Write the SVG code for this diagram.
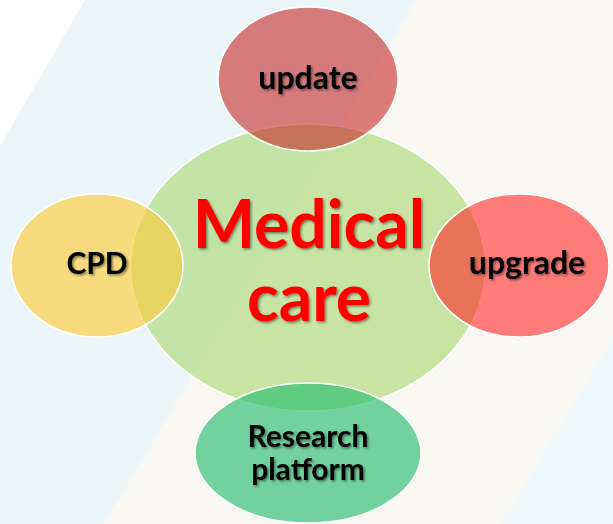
<svg xmlns="http://www.w3.org/2000/svg" width="613" height="524" viewBox="0 0 613 524">
<defs>
<style>
.node{stroke:#ffffff;stroke-width:1.5}
.lbl{font-family:Lato,"Open Sans","Liberation Sans",sans-serif;font-weight:700;font-size:30px;fill:#000000;text-anchor:middle;filter:url(#sh)}
.wide{font-size:32px}
.big{font-family:Lato,"Open Sans","Liberation Sans",sans-serif;font-weight:700;font-size:66px;fill:#ff0000;text-anchor:middle;filter:url(#sh)}
</style>
<filter id="sh" x="-10%" y="-20%" width="130%" height="150%">
<feDropShadow dx="1.5" dy="1.5" stdDeviation="1" flood-color="#000000" flood-opacity="0.45"/>
</filter>
</defs>
<g id="background">
<rect x="0" y="0" width="613" height="524" fill="#f9f7f2"/>
<polygon points="0,0 416,0 104,524 0,524" fill="#ecf6f9"/>
<polygon points="0,0 85,0 0,146" fill="#ffffff"/>
<polygon points="613,338 613,524 501,524" fill="#eef8fb"/>
</g>
<g id="connectors"/>
<g id="node-medical-care">
<ellipse class="node" cx="308" cy="267.5" rx="177.5" ry="143.5" fill="#abda77" fill-opacity="0.64"/>
<text class="big" x="309" y="248">Medical</text>
<text class="big" x="309" y="321">care</text>
</g>
<g id="node-update">
<ellipse class="node" cx="308" cy="79" rx="90" ry="72" fill="#c82927" fill-opacity="0.6"/>
<text class="lbl wide" x="308" y="89">update</text>
</g>
<g id="node-cpd">
<ellipse class="node" cx="97" cy="265.5" rx="86" ry="71.5" fill="#facd3c" fill-opacity="0.65"/>
<text class="lbl" x="97" y="274">CPD</text>
</g>
<g id="node-upgrade">
<ellipse class="node" cx="519" cy="265.5" rx="90" ry="71.5" fill="#ff2828" fill-opacity="0.6"/>
<text class="lbl wide" x="527" y="274">upgrade</text>
</g>
<g id="node-research-platform">
<ellipse class="node" cx="308" cy="453" rx="113" ry="70" fill="#28be6e" fill-opacity="0.65"/>
<text class="lbl" x="308" y="447">Research</text>
<text class="lbl" x="308" y="480">platform</text>
</g>
</svg>
